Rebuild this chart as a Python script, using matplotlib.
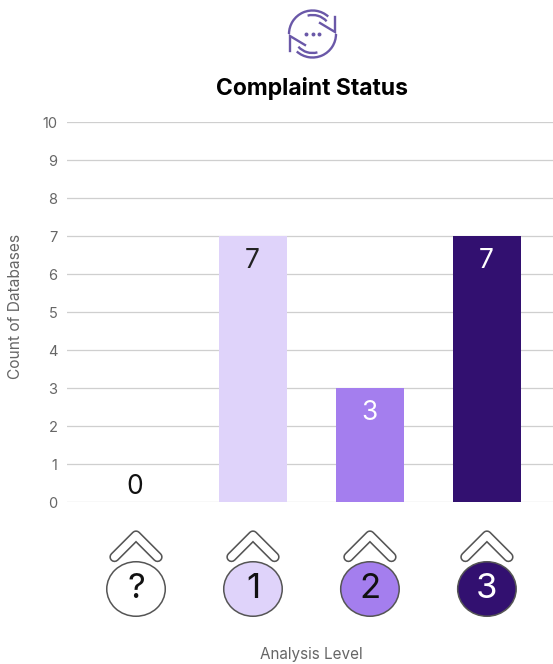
import numpy as np
import matplotlib
matplotlib.use('Agg')
import matplotlib.pyplot as plt
from matplotlib.patches import Ellipse, Arc

plt.rcParams['font.family'] = ['Inter', 'DejaVu Sans']

W, H = 553, 664

levels = ['?', '1', '2', '3']
counts = [0, 7, 3, 7]
bar_colors = ['#ffffff', '#dfd3fa', '#a47eee', '#321070']
text_colors = ['#111111', '#222222', '#ffffff', '#ffffff']
badge_text_colors = ['#111111', '#111111', '#111111', '#ffffff']
y_ticks = list(range(0, 11))

title = 'Complaint Status'
x_label = 'Analysis Level'
y_label = 'Count of Databases'

fig = plt.figure(figsize=(W / 100, H / 100), dpi=100, facecolor='white')

# main axes, placed in pixels
ax = fig.add_axes([67 / W, 1 - 502 / H, (W - 67) / W, 380 / H])
x = np.arange(len(levels))
bars = ax.bar(x, counts, width=0.585, color=bar_colors, zorder=3)
ax.set_xlim(-0.59, 3.565)
ax.set_ylim(0, 10)
ax.set_yticks(y_ticks)
ax.set_xticks([])
ax.tick_params(axis='y', length=0, pad=7, labelsize=10.5, labelcolor='#666666')
ax.grid(True, axis='y', color='#cfcfcf', linewidth=0.9, zorder=0)
for s in ax.spines.values():
    s.set_visible(False)

for bar, c, tc in zip(bars, counts, text_colors):
    cx = bar.get_x() + bar.get_width() / 2
    if c == 0:
        ax.annotate(str(c), (cx, c), xytext=(-1, 1.5), textcoords='offset points',
                    ha='center', va='bottom', fontsize=19, color=tc, zorder=4)
    else:
        ax.annotate(str(c), (cx, c), xytext=(-0.5, -9), textcoords='offset points',
                    ha='center', va='top', fontsize=19, color=tc, zorder=4)

# overlay in pixel coordinates for the icon, badges and labels
ov = fig.add_axes([0, 0, 1, 1], facecolor='none')
ov.set_xlim(0, W)
ov.set_ylim(H, 0)
ov.axis('off')

ov.text(312, 89, title, ha='center', va='center', fontsize=16.5, fontweight='bold', color='#000000')
ov.text(311.5, 654, x_label, ha='center', va='center', fontsize=11, color='#666666')
ov.text(16, 306, y_label, ha='center', va='center', rotation=90, fontsize=11.2, color='#666666')

# badges under each bar
for cx, lab, col, tc in zip(x, levels, bar_colors, badge_text_colors):
    px = 67 + (cx + 0.59) / 4.155 * (W - 67)
    cxs = [px - 21.5, px, px + 21.5]
    cys = [557, 535.5, 557]
    ov.plot(cxs, cys, color='#555555', lw=7.5, solid_capstyle='round', solid_joinstyle='round')
    ov.plot(cxs, cys, color='#ffffff', lw=5.2, solid_capstyle='round', solid_joinstyle='round')
    ov.add_patch(Ellipse((px, 589), 58.5, 54.5, facecolor=col, edgecolor='#555555', lw=1.1, zorder=3))
    ov.text(px, 589, lab, ha='center', va='center', fontsize=25, color=tc, zorder=4)

# refresh icon at the top
icon = '#6a58a8'
for t1, t2 in [(180, 312), (0, 132)]:
    ov.add_patch(Arc((312.5, 34), 47, 47, theta1=t1, theta2=t2, color=icon, lw=1.7))
for t1, t2 in [(255, 318), (75, 138)]:
    ov.add_patch(Arc((312.5, 34), 38, 38, theta1=t1, theta2=t2, color=icon, lw=1.7))
ov.plot([335, 335, 320], [17, 32, 23], color=icon, lw=1.7, solid_joinstyle='miter')
ov.plot([290, 290, 305], [51, 36, 45], color=icon, lw=1.7, solid_joinstyle='miter')
ov.scatter([306, 312.5, 319], [34, 34, 34], s=8, color=icon, linewidths=0)

fig.savefig('out.png', dpi=100, facecolor='white')
